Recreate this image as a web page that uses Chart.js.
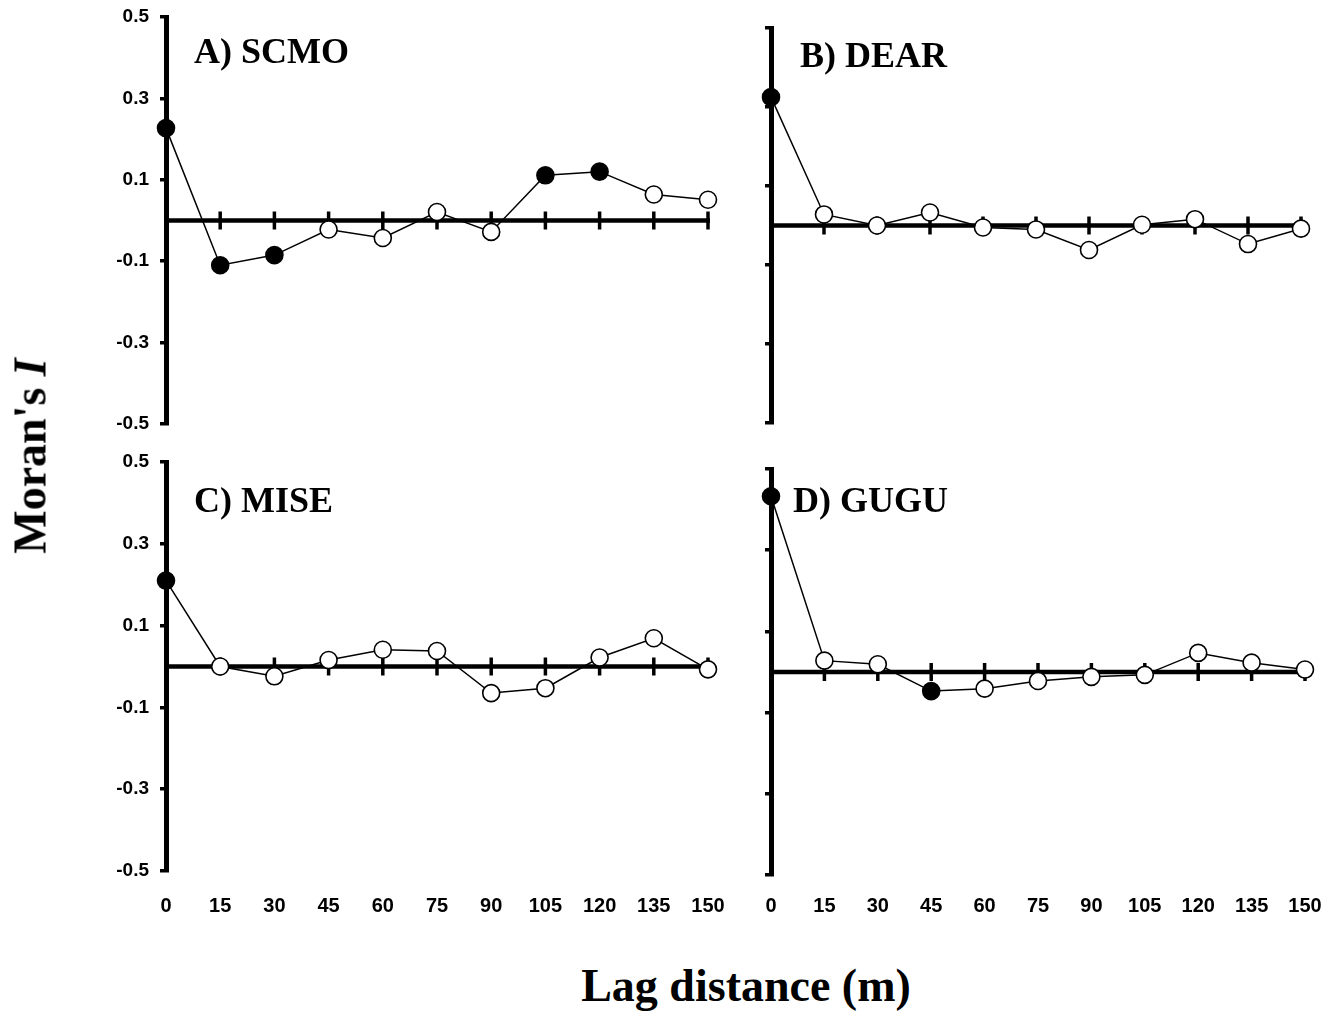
<!DOCTYPE html>
<html>
<head>
<meta charset="utf-8">
<title>Moran's I correlograms</title>
<script src="https://cdn.jsdelivr.net/npm/chart.js@4/dist/chart.umd.min.js"></script>
<style>
  body { margin: 0; background: #fff; }
  #wrap { position: relative; width: 1331px; height: 1016px; overflow: hidden; }
  #wrap canvas { position: absolute; }
  .axis-title { position: absolute; white-space: nowrap; line-height: 1;
    font: bold 46px "Liberation Serif", "Times New Roman", serif; color: #000; }
  #ytitle { left: 30px; top: 456px; transform: translate(-50%, -50%) rotate(-90deg); }
  #xtitle { left: 746px; top: 985px; transform: translate(-50%, -50%); }
</style>
</head>
<body>
<div id="wrap">
  <canvas id="pA" width="740" height="440" style="left:0;top:0"></canvas>
  <canvas id="pB" width="601" height="440" style="left:730px;top:0"></canvas>
  <canvas id="pC" width="740" height="500" style="left:0;top:440px"></canvas>
  <canvas id="pD" width="601" height="500" style="left:730px;top:440px"></canvas>
  <div class="axis-title" id="ytitle">Moran's <i>I</i></div>
  <div class="axis-title" id="xtitle">Lag distance (m)</div>
</div>
<script>
// distance classes (m) and Moran's I tick positions
const lags = [0, 15, 30, 45, 60, 75, 90, 105, 120, 135, 150];
const yTicks = [-0.5, -0.3, -0.1, 0.1, 0.3, 0.5];

// Moran's I per distance class; 1 = significant (filled marker)
const scmoI = [0.227, -0.11, -0.085, -0.022, -0.043, 0.021, -0.028, 0.111, 0.12, 0.064, 0.051];
const scmoSig = [1, 1, 1, 0, 0, 0, 0, 1, 1, 0, 0];

const dearI = [0.325, 0.028, 0.0, 0.033, -0.005, -0.01, -0.062, 0.002, 0.016, -0.047, -0.008];
const dearSig = [1, 0, 0, 0, 0, 0, 0, 0, 0, 0, 0];

const miseI = [0.21, 0.0, -0.024, 0.016, 0.041, 0.038, -0.065, -0.053, 0.022, 0.069, -0.007];
const miseSig = [1, 0, 0, 0, 0, 0, 0, 0, 0, 0, 0];

const guguI = [0.433, 0.028, 0.019, -0.047, -0.041, -0.022, -0.012, -0.007, 0.047, 0.023, 0.006];
const guguSig = [1, 0, 0, 1, 0, 0, 0, 0, 0, 0, 0];

// thick zero line with tick marks crossing it
const zeroAxis = {
  id: 'zeroAxis',
  beforeDatasetsDraw(chart) {
    const { ctx, scales: { x, y } } = chart;
    const y0 = y.getPixelForValue(0);
    ctx.save();
    ctx.strokeStyle = '#000';
    ctx.lineWidth = 4.5;
    ctx.beginPath();
    ctx.moveTo(x.getPixelForValue(x.min), y0);
    ctx.lineTo(x.getPixelForValue(x.max) + 2, y0);
    ctx.stroke();
    ctx.lineWidth = 3.5;
    x.ticks.forEach(t => {
      if (t.value === x.min) return;
      const px = x.getPixelForValue(t.value);
      ctx.beginPath();
      ctx.moveTo(px, y0 - 9);
      ctx.lineTo(px, y0 + 9);
      ctx.stroke();
    });
    ctx.restore();
  }
};

// panel letter + species code inside the plot
const panelTitle = {
  id: 'panelTitle',
  afterDraw(chart, args, opts) {
    const { ctx, chartArea } = chart;
    ctx.save();
    ctx.font = 'bold 36px "Liberation Serif", "Times New Roman", serif';
    ctx.fillStyle = '#000';
    ctx.textBaseline = 'alphabetic';
    ctx.fillText(opts.text, chartArea.left + opts.dx, chartArea.top + opts.dy);
    ctx.restore();
  }
};

const panels = [
  { id: 'pA', title: 'A) SCMO', values: scmoI, sig: scmoSig, yLabels: true, xLabels: false,
    canvas: { left: 0, top: 0, w: 740, h: 440 }, area: { left: 166, top: 17, right: 708, bottom: 424 },
    tdx: 28, tdy: 46 },
  { id: 'pB', title: 'B) DEAR', values: dearI, sig: dearSig, yLabels: false, xLabels: false,
    canvas: { left: 730, top: 0, w: 601, h: 440 }, area: { left: 771, top: 28, right: 1301, bottom: 423 },
    tdx: 29, tdy: 39 },
  { id: 'pC', title: 'C) MISE', values: miseI, sig: miseSig, yLabels: true, xLabels: true,
    canvas: { left: 0, top: 440, w: 740, h: 500 }, area: { left: 166, top: 462, right: 708, bottom: 871 },
    tdx: 28, tdy: 50 },
  { id: 'pD', title: 'D) GUGU', values: guguI, sig: guguSig, yLabels: false, xLabels: true,
    canvas: { left: 730, top: 440, w: 601, h: 500 }, area: { left: 771, top: 469, right: 1305, bottom: 875 },
    tdx: 22, tdy: 43 }
];

const labelMid = 906;

panels.forEach(p => {
  const c = p.canvas, a = p.area;
  const yAxisW = a.left - c.left;
  const xAxisH = c.top + c.h - a.bottom;
  const xPad = labelMid - 12 - a.bottom;

  new Chart(document.getElementById(p.id), {
    type: 'line',
    data: {
      datasets: [{
        data: lags.map((x, i) => ({ x: x, y: p.values[i] })),
        borderColor: '#000',
        borderWidth: 1.5,
        tension: 0,
        pointRadius: 8.5,
        pointHoverRadius: 8.5,
        pointBorderWidth: 1.6,
        pointBorderColor: '#000',
        pointBackgroundColor: p.sig.map(s => s ? '#000' : '#fff'),
        clip: false
      }]
    },
    options: {
      responsive: false,
      animation: false,
      devicePixelRatio: 1,
      events: [],
      layout: {
        autoPadding: false,
        padding: { left: 0, top: a.top - c.top, right: c.left + c.w - a.right, bottom: 0 }
      },
      plugins: {
        legend: { display: false },
        tooltip: { enabled: false },
        panelTitle: { text: p.title, dx: p.tdx, dy: p.tdy }
      },
      scales: {
        x: {
          type: 'linear',
          min: 0,
          max: 150,
          afterBuildTicks: s => { s.ticks = lags.map(v => ({ value: v })); },
          ticks: {
            display: p.xLabels,
            autoSkip: false,
            maxRotation: 0,
            padding: xPad,
            color: '#000',
            font: { family: '"Liberation Sans", Arial, sans-serif', size: 20, weight: 'bold' }
          },
          grid: { display: false, drawTicks: false },
          border: { display: false },
          afterFit: s => { s.height = xAxisH; s.paddingLeft = 0; s.paddingRight = 0; }
        },
        y: {
          min: -0.5,
          max: 0.5,
          afterBuildTicks: s => { s.ticks = yTicks.map(v => ({ value: v })); },
          ticks: {
            display: p.yLabels,
            padding: 11,
            color: '#000',
            callback: v => v.toFixed(1),
            font: { family: '"Liberation Sans", Arial, sans-serif', size: 19, weight: 'bold' }
          },
          grid: { drawOnChartArea: false, drawTicks: true, tickLength: 6, lineWidth: 3.5, color: '#000' },
          border: { display: true, width: 5, color: '#000' },
          afterFit: s => { s.width = yAxisW; s.paddingTop = 0; s.paddingBottom = 0; }
        }
      }
    },
    plugins: [zeroAxis, panelTitle]
  });
});
</script>
</body>
</html>
